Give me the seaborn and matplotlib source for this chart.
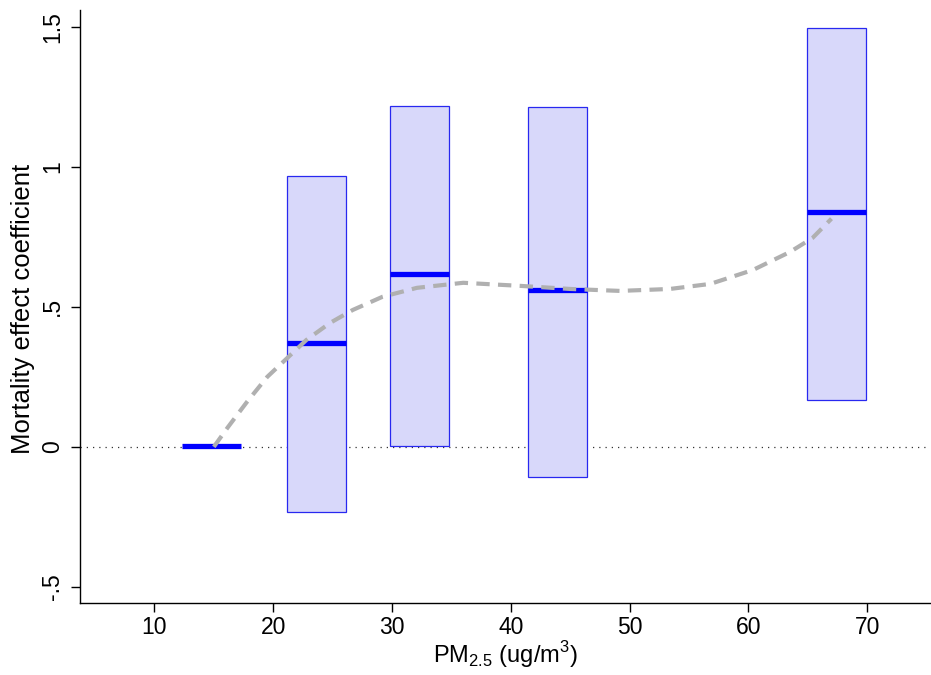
import numpy as np
import matplotlib.pyplot as plt
import seaborn as sns
import pandas as pd

# PM2.5 categories: interval x-extent, point estimate and 95% CI
bin_lo = [12.3, 21.2, 29.8, 41.45, 64.9]
bin_hi = [17.3, 26.1, 34.8, 46.4, 69.9]
coef = [0.004, 0.371, 0.618, 0.561, 0.839]
ci_lo = [0.004, -0.232, 0.004, -0.107, 0.168]
ci_hi = [0.004, 0.968, 1.218, 1.214, 1.496]

# smooth dose-response curve
curve_x = [15.0, 16.2, 17.8, 19.5, 21.2, 22.8, 24.8, 26.7, 29.2, 32.1, 36.0,
           40.8, 45.0, 49.2, 53.4, 56.8, 60.4, 63.5, 65.4, 67.0]
curve_y = [0.0, 0.071, 0.161, 0.25, 0.318, 0.382, 0.443, 0.489, 0.536, 0.568, 0.586,
           0.575, 0.564, 0.557, 0.564, 0.582, 0.632, 0.696, 0.746, 0.815]

xticks = [10, 20, 30, 40, 50, 60, 70]
yticks = [-0.5, 0, 0.5, 1, 1.5]
ytick_labels = ["-.5", "0", ".5", "1", "1.5"]

sns.set_style("ticks")
plt.rcParams['font.family'] = ['Liberation Sans', 'DejaVu Sans']
plt.rcParams['mathtext.fontset'] = 'custom'
plt.rcParams['mathtext.rm'] = 'Liberation Sans'
plt.rcParams['text.color'] = 'black'
plt.rcParams['axes.labelcolor'] = 'black'
plt.rcParams['xtick.color'] = 'black'
plt.rcParams['ytick.color'] = 'black'

fig = plt.figure(figsize=(9.31, 6.75), dpi=100)
ax = fig.add_axes([0.086, 0.107, 0.913, 0.878])

bins = pd.DataFrame({"lo": bin_lo, "hi": bin_hi, "coef": coef,
                     "ci_lo": ci_lo, "ci_hi": ci_hi})
bins["mid"] = (bins["lo"] + bins["hi"]) / 2
bins["w"] = bins["hi"] - bins["lo"]

# CI boxes (skip reference group with zero width CI)
ci = bins[bins["ci_hi"] > bins["ci_lo"]]
ax.bar(ci["mid"], ci["ci_hi"] - ci["ci_lo"], bottom=ci["ci_lo"], width=ci["w"],
       color="#D8D8FA", edgecolor="#2828F0", linewidth=0.9, zorder=2)

# zero reference line
ax.axhline(0, color="#333333", linestyle=(0, (1, 4)), linewidth=0.9, zorder=1)

# point estimates
ax.hlines(bins["coef"], bins["lo"], bins["hi"], color="#0000FF", linewidth=3.8, zorder=3)

curve = pd.DataFrame({"x": curve_x, "y": curve_y})
sns.lineplot(data=curve, x="x", y="y", ax=ax, color="#B0B0B0", linewidth=3,
             linestyle=(0, (3.2, 2)), zorder=4)

ax.set_xlim(3.74, 75.3)
ax.set_ylim(-0.557, 1.56)
ax.set_xticks(xticks)
ax.set_xticklabels([str(t) for t in xticks], fontsize=16.5)
ax.set_yticks(yticks)
ax.set_yticklabels(ytick_labels, fontsize=16.5, rotation=90, va="center")
ax.tick_params(axis="both", length=6.5, width=1, color="black")
ax.tick_params(axis="x", pad=3)
ax.tick_params(axis="y", pad=5)
ax.set_xlabel(r"PM$_{\mathrm{2.5}}$ (ug/m$^{\mathrm{3}}$)", fontsize=17, labelpad=0)
ax.set_ylabel("Mortality effect coefficient", fontsize=18.5)
ax.yaxis.set_label_coords(-0.053, 0.495)
sns.despine(ax=ax)
for s in ["left", "bottom"]:
    ax.spines[s].set_linewidth(1)
    ax.spines[s].set_color("black")

fig.savefig("out.png", dpi=100)
